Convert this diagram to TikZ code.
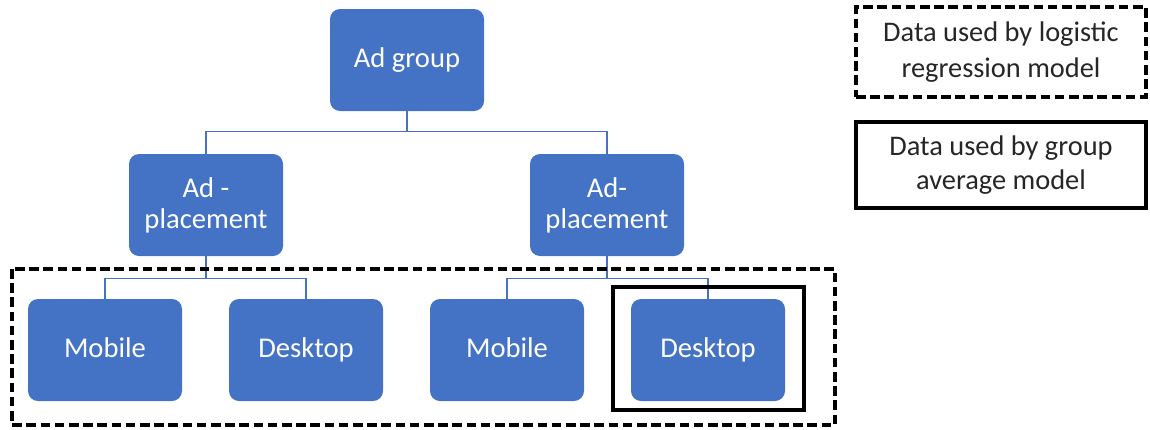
\documentclass[tikz,border=0pt]{standalone}
\usepackage{fontspec}
\setmainfont{Carlito}
\usepackage{tikz}
\usetikzlibrary{positioning}

\definecolor{boxblue}{HTML}{4472C4}
\definecolor{inkgray}{HTML}{262626}

\begin{document}
\begin{tikzpicture}[x=0.5pt, y=-0.5pt]
  \tikzstyle{level}=[fill=boxblue, rounded corners=5pt, text=white, align=center,
    minimum width=77pt, minimum height=51pt, inner sep=2pt,
    font=\fontsize{14.3}{15.5}\selectfont];
  \tikzstyle{leaf}=[level, text height=9.2pt, text depth=2pt];
  \tikzstyle{link}=[draw=boxblue, line width=0.8pt];
  \tikzstyle{frame}=[draw=black, line width=1.7pt];
  \tikzstyle{dashframe}=[frame, dash pattern=on 4.8pt off 2.3pt];
  \tikzstyle{legend}=[frame, align=center, text=inkgray,
    minimum width=145pt, minimum height=45pt, inner sep=2pt];
  \useasboundingbox (0,0) rectangle (1150,429);

  % tree
  \node [leaf]  at (407,60)   (Group)  {Ad group};
  \node [level] at (206,205)  (PlaceL) {Ad -\\placement};
  \node [level] at (607,205)  (PlaceR) {Ad-\\placement};
  \node [leaf]  at (105,350)  (MobL)   {Mobile};
  \node [leaf]  at (306,350)  (DeskL)  {Desktop};
  \node [leaf]  at (507,350)  (MobR)   {Mobile};
  \node [leaf]  at (708,350)  (DeskR)  {Desktop};

  \draw[link] (Group.south) -- ++(0,20) -| (PlaceL.north);
  \draw[link] (Group.south) -- ++(0,20) -| (PlaceR.north);
  \draw[link] (PlaceL.south) -- ++(0,22) -| (MobL.north);
  \draw[link] (PlaceL.south) -- ++(0,22) -| (DeskL.north);
  \draw[link] (PlaceR.south) -- ++(0,22) -| (MobR.north);
  \draw[link] (PlaceR.south) -- ++(0,22) -| (DeskR.north);

  % data frames
  \draw[dashframe] (12,269) rectangle (835,425);
  \draw[frame, line width=1.9pt] (613,287) rectangle (804,410);

  % key
  \node [legend, dashframe, font=\fontsize{14.2}{18.3}\selectfont]
    at (1001,52) (KeyLogit) {Data used by logistic\\regression model};
  \node [legend, minimum height=43pt, font=\fontsize{14.2}{17}\selectfont]
    at (1001,165) (KeyAvg) {Data used by group\\average model};
\end{tikzpicture}
\end{document}
